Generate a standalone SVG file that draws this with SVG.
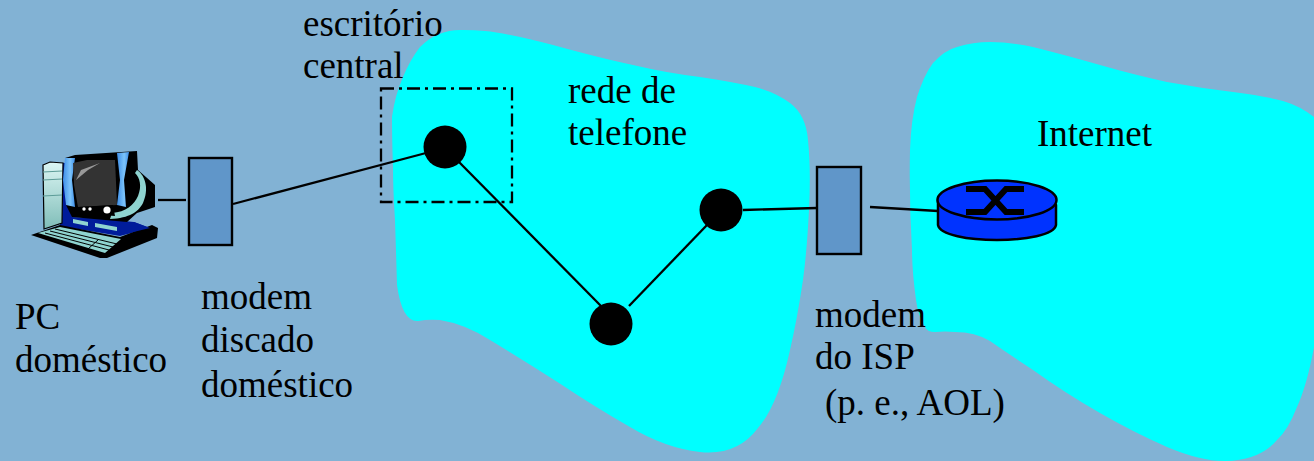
<svg xmlns="http://www.w3.org/2000/svg" width="1314" height="461" viewBox="0 0 1314 461">
<defs>
<linearGradient id="torre" x1="0" y1="0" x2="0" y2="1"><stop offset="0" stop-color="#dcf6f4"/><stop offset="1" stop-color="#7fbdb8"/></linearGradient>
<linearGradient id="faixa" x1="0" y1="0" x2="1" y2="0"><stop offset="0" stop-color="#3f8fe8"/><stop offset="0.6" stop-color="#7cc4fa"/><stop offset="1" stop-color="#3f8fe8"/></linearGradient>
</defs>
<style>
text{font-family:"Liberation Serif","Times New Roman",serif;font-size:37px;fill:#000}
.cloud{fill:#00ffff}
.link{fill:none;stroke:#000;stroke-width:2.3}
.modem{fill:#6096c9;stroke:#000;stroke-width:2.4}
.hub{fill:#000}
.teal{fill:#8fd4d0}
.navy{fill:#001c9a}
.sky{fill:url(#faixa)}
.edge{stroke:#000;stroke-width:2.5;stroke-linejoin:round}
</style>
<rect width="1314" height="461" fill="#82b2d4"/>
<g id="rede-telefone">
<path class="cloud" d="M485 31Q507 33 553 45Q600 58 633 65Q667 73 700 77Q733 82 755 87Q775 92 790 103Q806 115 808 140Q811 170 809 210Q807 250 803 280Q797 320 790 350Q778 405 758 428Q737 456 700 452Q665 448 630 427Q595 407 559 383Q523 360 490 340Q465 324 440 320Q428 319 418 321Q402 322 397 285Q396 250 395 220Q393 190 393 167Q392 140 392 117Q395 95 403 77Q410 60 420 47Q438 29 463 30Q475 30 485 31Z"/>
</g>
<g id="internet">
<path class="cloud" d="M990 42Q1010 42 1033 47Q1065 55 1100 65Q1135 75 1167 82Q1200 88 1233 92Q1265 96 1283 101Q1300 106 1314 117L1314 347Q1307 385 1297 407Q1288 430 1277 440Q1260 460 1225 461Q1200 461 1167 447Q1133 432 1100 413Q1065 393 1033 370Q1010 355 990 341Q975 332 955 332Q945 331 935 332Q927 332 925 327Q918 315 916 300Q912 270 912 250Q909 200 910 150Q911 120 917 97Q924 75 933 63Q945 50 957 47Q973 42 990 42Z"/>
</g>
<g id="connectors">
<path class="link" d="M158 200H186"/>
<path class="link" d="M233 204L426 153"/>
<path class="link" d="M459 162L601 306"/>
<path class="link" d="M629 306L707 225"/>
<path class="link" d="M743 210L817 208"/>
<path class="link" d="M870 207L938 211"/>
</g>
<g id="pc-domestico">
<!-- gabinete torre -->
<path class="navy" d="M60 163H70L72 217L93 218L134 222L150 228L120 236L60 226Z"/>
<path d="M43 165L50 162L63 163L62 223L44 229Z" fill="url(#torre)" stroke="#000" stroke-width="1.2"/>
<path d="M43 172L62 171M43 180L62 179M43 196L62 195" stroke="#5d9c98" stroke-width="1.2" fill="none"/>
<!-- monitor -->
<path d="M65 158L75 155L137 151L138 170L155 185L155 207L137 213L127 222L72 217L66 205Z" fill="#000"/>
<path class="teal" d="M137 170C146 176 149 190 143 203C138 212 130 218 110 219L112 213C126 212 134 205 138 196C142 186 140 178 135 173Z"/>
<path class="sky" d="M65 158L75 158L72 180L75 207L66 205L63 180Z"/>
<path class="sky" d="M117 153L129 152L124 180L126 207L117 205L120 180Z"/>
<path d="M73 163L87 160L115 160L117 205L78 207L74 185Z" fill="#333"/>
<path d="M76 180L81 170L100 163L88 170Z" fill="#999"/>
<path d="M78 207L113 205L115 216L79 213Z" fill="#000"/>
<circle cx="84" cy="209" r="1.7" fill="#fff"/>
<circle cx="90" cy="209" r="1.7" fill="#fff"/>
<circle cx="107" cy="210" r="3.6" fill="#fff"/>
<path class="teal" d="M73 219L88 222V226L73 223ZM95 223L117 227V231L95 227Z"/>
<!-- teclado -->
<path d="M31 235L60 225L120 237L152 225L158 228L157 238L107 258H100Z" fill="#000"/>
<path class="navy" d="M121 235L134 222L150 228Z"/>
<path class="teal" d="M38 233L60 227L121 239L105 253Z"/>
<path d="M45 233L109 250M50 231L113 247M55 229L117 244M98 240L88 249" stroke="#000" stroke-width="1" fill="none"/>
</g>
<g id="modem-domestico"><rect class="modem" x="189" y="158" width="43" height="87"/></g>
<g id="escritorio-central">
<rect x="381" y="88.500" width="131" height="113.500" fill="none" stroke="#000" stroke-width="2.300" stroke-dasharray="13 5 3 5"/>
<circle class="hub" cx="445" cy="147" r="21.500"/>
</g>
<g id="comutador-inferior"><circle class="hub" cx="611" cy="324" r="21.500"/></g>
<g id="comutador-direito"><circle class="hub" cx="721" cy="210" r="21.500"/></g>
<g id="modem-isp"><rect class="modem" x="817" y="167" width="44" height="87"/></g>
<g id="roteador">
<path class="edge" d="M938 200V225C942 245 1052 245 1056 225V205L1050 200Z" fill="#0033ff"/>
<ellipse class="edge" cx="997" cy="200" rx="59.500" ry="19.500" fill="#0033ff"/>
<path d="M966 189H985L1006 212H1024M966 212H985L1006 189H1024" fill="none" stroke="#000" stroke-width="6"/>
</g>
<g id="rotulos">
<text x="303" y="36">escritório</text>
<text x="303" y="78">central</text>
<text x="568" y="103">rede de</text>
<text x="568" y="145">telefone</text>
<text x="1037" y="146">Internet</text>
<text x="15" y="329">PC</text>
<text x="15" y="372">doméstico</text>
<text x="201" y="309">modem</text>
<text x="201" y="352">discado</text>
<text x="201" y="397">doméstico</text>
<text x="815" y="327">modem</text>
<text x="815" y="369">do ISP</text>
<text x="825" y="415">(p. e., AOL)</text>
</g>
</svg>
